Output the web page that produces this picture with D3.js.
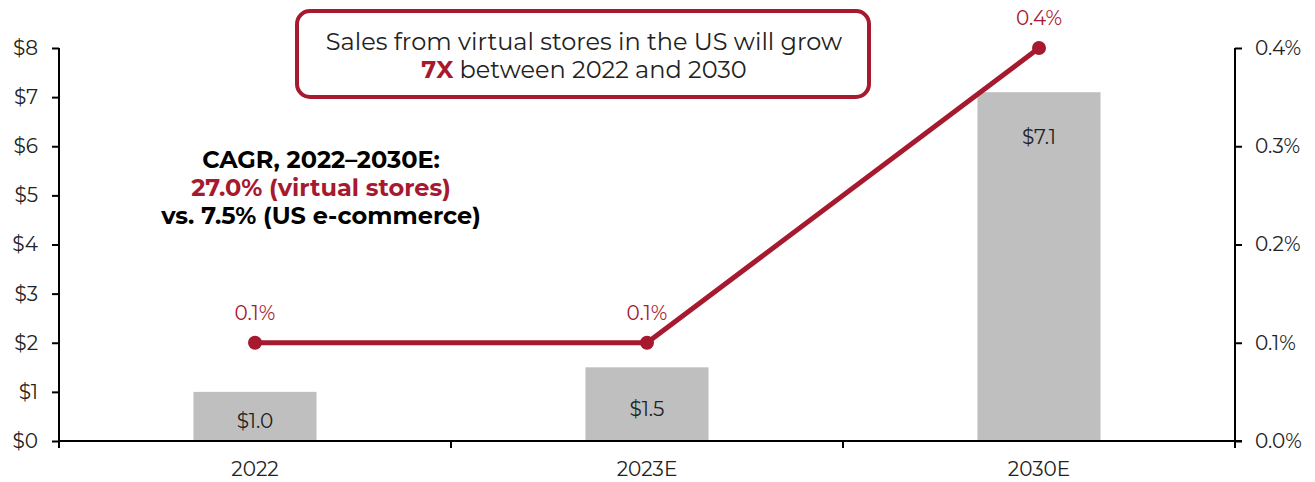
<!DOCTYPE html>
<html lang="en">
<head>
<meta charset="UTF-8">
<title>Virtual stores sales</title>
<script src="https://d3js.org/d3.v7.min.js"></script>
<style>
body { margin: 0; background: #fff; }
text { font-family: Montserrat, "Open Sans", sans-serif; }
.axis path, .axis line { stroke: #000; stroke-width: 2px; }
.axis text { font-size: 20px; fill: #222; }
</style>
</head>
<body>
<div id="chart"></div>
<script>
// data
const categories = ['2022', '2023E', '2030E']
const sales = [1.0, 1.5, 7.1]          // $ bn, bars
const share = [0.1, 0.1, 0.4]          // % of US e-commerce, line
const salesTicks = [0, 1, 2, 3, 4, 5, 6, 7, 8]
const shareTicks = [0, 0.1, 0.2, 0.3, 0.4]

const maincolor = '#A6192E'
const barcolor = '#BFBFBF'
const width = 1315, height = 482
const margin = {top: 48, right: 80, bottom: 41, left: 59}
const w = width - margin.left - margin.right
const h = height - margin.top - margin.bottom

const svg = d3.select('#chart').append('svg')
  .attr('width', width).attr('height', height)
const g = svg.append('g')
  .attr('transform', `translate(${margin.left},${margin.top})`)

const x = d3.scaleBand().domain(categories).range([0, w]).paddingInner(0.686).paddingOuter(0.343)
const xb = d3.scaleBand().domain(categories).range([0, w])
const y = d3.scaleLinear().domain([0, 8]).range([h, 0])
const y2 = d3.scaleLinear().domain([0, 0.4]).range([h, 0])

// bars
g.selectAll('.bar').data(sales).enter().append('rect')
  .attr('x', (d, i) => x(categories[i]))
  .attr('y', d => y(d))
  .attr('width', x.bandwidth())
  .attr('height', d => h - y(d))
  .attr('fill', barcolor)

g.selectAll('.barlabel').data(sales).enter().append('text')
  .attr('x', (d, i) => x(categories[i]) + x.bandwidth() / 2)
  .attr('y', d => Math.min(y(d) + 45, (y(d) + h) / 2 + 5))
  .attr('dy', '0.35em')
  .attr('text-anchor', 'middle')
  .style('font-size', '20px').style('fill', '#222')
  .text(d => '$' + d.toFixed(1))

// axes
g.append('g').attr('class', 'axis')
  .call(d3.axisLeft(y).tickValues(salesTicks).tickSize(7).tickPadding(14).tickFormat(d => '$' + d))
  .call(a => a.select('.domain').attr('d', `M0,${h}V0`))

g.append('g').attr('class', 'axis')
  .attr('transform', `translate(${w},0)`)
  .call(d3.axisRight(y2).tickValues(shareTicks).tickSize(7).tickPadding(13).tickFormat(d => d.toFixed(1) + '%'))
  .call(a => a.select('.domain').attr('d', `M0,${h}V0`))

const xAxis = g.append('g').attr('class', 'axis')
  .attr('transform', `translate(0,${h})`)
xAxis.append('path').attr('d', `M0,0H${w + 7}`).attr('stroke', '#000').attr('stroke-width', 2)
xAxis.selectAll('.sep').data(d3.range(categories.length + 1)).enter().append('line')
  .attr('x1', i => i * xb.step()).attr('x2', i => i * xb.step())
  .attr('y1', 0).attr('y2', 7)
xAxis.selectAll('.cat').data(categories).enter().append('text')
  .attr('x', d => xb(d) + xb.bandwidth() / 2)
  .attr('y', 35)
  .attr('text-anchor', 'middle')
  .text(d => d)

// line
const cx = (d, i) => x(categories[i]) + x.bandwidth() / 2
g.append('path').datum(share)
  .attr('fill', 'none').attr('stroke', maincolor).attr('stroke-width', 5)
  .attr('d', d3.line().x(cx).y(d => y2(d)))

g.selectAll('.dot').data(share).enter().append('circle')
  .attr('cx', cx).attr('cy', d => y2(d)).attr('r', 7)
  .attr('fill', maincolor)

g.selectAll('.linelabel').data(share).enter().append('text')
  .attr('x', cx).attr('y', d => y2(d) - 30)
  .attr('dy', '0.35em')
  .attr('text-anchor', 'middle')
  .style('font-size', '20px').style('fill', maincolor)
  .text(d => d.toFixed(1) + '%')

// annotation box
svg.append('rect')
  .attr('x', 297).attr('y', 11).attr('width', 572).attr('height', 86)
  .attr('rx', 13).attr('fill', '#fff')
  .attr('stroke', maincolor).attr('stroke-width', 4)

const note = svg.append('text').attr('text-anchor', 'middle').style('font-size', '24px').style('fill', '#222')
note.append('tspan').attr('x', 584).attr('y', 50).text('Sales from virtual stores in the US will grow')
const l2 = note.append('tspan').attr('x', 584).attr('y', 78)
l2.append('tspan').style('font-weight', 'bold').style('fill', maincolor).text('7X')
l2.append('tspan').text(' between 2022 and 2030')

// CAGR text
const cagr = svg.append('text').attr('text-anchor', 'middle')
  .style('font-size', '24px').style('font-weight', 'bold')
cagr.append('tspan').attr('x', 321).attr('y', 168).text('CAGR, 2022\u20132030E:')
cagr.append('tspan').attr('x', 321).attr('y', 196).style('fill', maincolor).text('27.0% (virtual stores)')
cagr.append('tspan').attr('x', 321).attr('y', 224).text('vs. 7.5% (US e-commerce)')
</script>
</body>
</html>
